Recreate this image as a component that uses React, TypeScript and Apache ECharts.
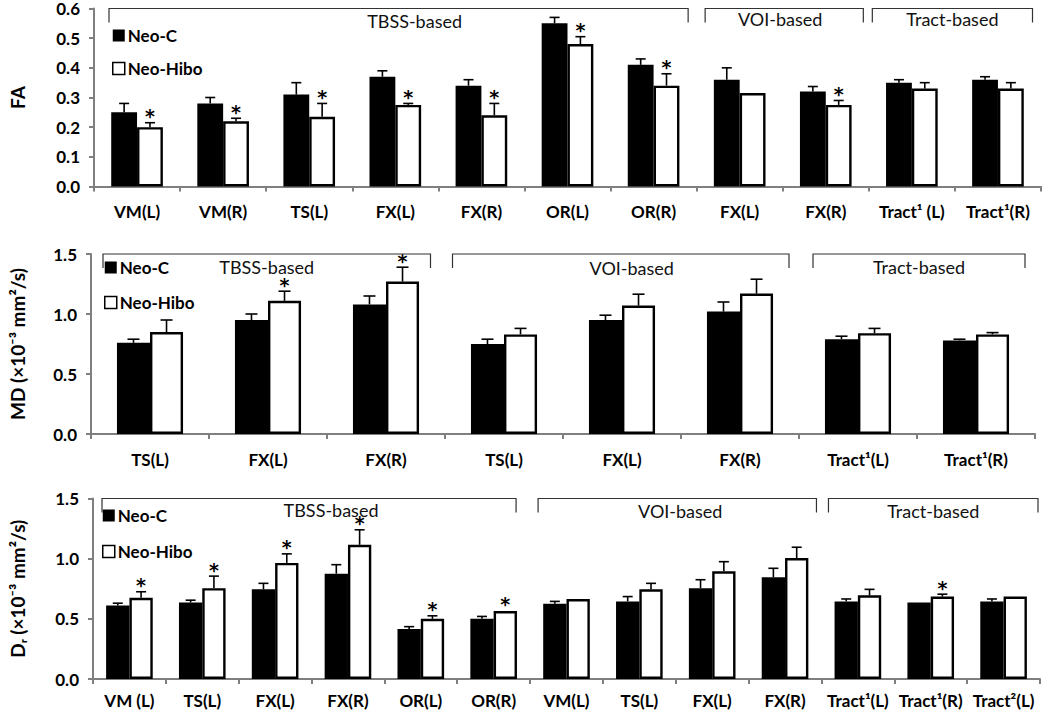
import React, { useEffect, useRef } from "react";
import * as echarts from "echarts";

// ---------- DATA ----------
const faCategories = ["VM(L)", "VM(R)", "TS(L)", "FX(L)", "FX(R)", "OR(L)", "OR(R)", "FX(L)", "FX(R)", "Tract¹ (L)", "Tract¹(R)"];
const faNeoC = [0.25, 0.28, 0.31, 0.37, 0.34, 0.55, 0.41, 0.36, 0.32, 0.35, 0.36];
const faNeoCSd = [0.03, 0.02, 0.04, 0.02, 0.02, 0.02, 0.02, 0.04, 0.017, 0.01, 0.01];
const faNeoHibo = [0.2, 0.22, 0.235, 0.275, 0.24, 0.48, 0.34, 0.315, 0.275, 0.33, 0.33];
const faNeoHiboSd = [0.015, 0.01, 0.045, 0.005, 0.04, 0.025, 0.04, 0.002, 0.015, 0.02, 0.02];
const faSig = [1, 1, 1, 1, 1, 1, 1, 0, 1, 0, 0];
const faTicks = [0, 0.6, 0.1];

const mdCategories = ["TS(L)", "FX(L)", "FX(R)", "TS(L)", "FX(L)", "FX(R)", "Tract¹(L)", "Tract¹(R)"];
const mdNeoC = [0.76, 0.95, 1.08, 0.75, 0.95, 1.02, 0.79, 0.78];
const mdNeoCSd = [0.03, 0.05, 0.07, 0.04, 0.04, 0.08, 0.025, 0.01];
const mdNeoHibo = [0.85, 1.11, 1.27, 0.83, 1.07, 1.17, 0.84, 0.83];
const mdNeoHiboSd = [0.1, 0.08, 0.12, 0.05, 0.095, 0.12, 0.04, 0.015];
const mdSig = [0, 1, 1, 0, 0, 0, 0, 0];
const mdTicks = [0, 1.5, 0.5];

const drCategories = ["VM (L)", "TS(L)", "FX(L)", "FX(R)", "OR(L)", "OR(R)", "VM(L)", "TS(L)", "FX(L)", "FX(R)", "Tract¹(L)", "Tract¹(R)", "Tract²(L)"];
const drNeoC = [0.61, 0.635, 0.745, 0.875, 0.415, 0.5, 0.625, 0.645, 0.755, 0.845, 0.645, 0.635, 0.645];
const drNeoCSd = [0.02, 0.02, 0.05, 0.075, 0.02, 0.02, 0.02, 0.04, 0.07, 0.075, 0.02, 0.004, 0.02];
const drNeoHibo = [0.675, 0.755, 0.965, 1.115, 0.5, 0.565, 0.665, 0.745, 0.895, 1.005, 0.695, 0.685, 0.685];
const drNeoHiboSd = [0.05, 0.1, 0.075, 0.125, 0.025, 0.005, 0.003, 0.05, 0.08, 0.09, 0.05, 0.02, 0.003];
const drSig = [1, 1, 1, 1, 1, 1, 0, 0, 0, 0, 0, 1, 0];
const drTicks = [0, 1.5, 0.5];

// bracket groups: [first category index, last category index, label]
const faBrackets: [number, number, string][] = [[0, 6, "TBSS-based"], [7, 8, "VOI-based"], [9, 10, "Tract-based"]];
const mdBrackets: [number, number, string][] = [[0, 2, "TBSS-based"], [3, 5, "VOI-based"], [6, 7, "Tract-based"]];
const drBrackets: [number, number, string][] = [[0, 5, "TBSS-based"], [6, 9, "VOI-based"], [10, 12, "Tract-based"]];

const seriesNames = ["Neo-C", "Neo-Hibo"];
const yTitles = ["FA", "MD (×10⁻³ mm²/s)", "Dᵣ (×10⁻³ mm²/s)"];

// ---------- STYLE ----------
const FONT = "Lato, 'Open Sans', sans-serif";
const AXIS_GRAY = "#7f7f7f";

const panels = [
  {
    cats: faCategories, c: faNeoC, cSd: faNeoCSd, h: faNeoHibo, hSd: faNeoHiboSd, sig: faSig, ticks: faTicks,
    brackets: faBrackets,
    grid: { left: 89, top: 8.5, width: 952, height: 178 },
    barFrac: 0.3, cap: 5, labelMargin: 16, nameGap: 67,
    bracketStyle: [{ padL: 15, padR: 8.5, dx: 16, dy: 12 }, { padL: 8.5, padR: 5.5, dx: -4, dy: 10 }, { padL: 3.5, padR: 8.5, dx: 0, dy: 10 }],
    legend: { left: 112, top: 27, itemGap: 16 },
  },
  {
    cats: mdCategories, c: mdNeoC, cSd: mdNeoCSd, h: mdNeoHibo, hSd: mdNeoHiboSd, sig: mdSig, ticks: mdTicks,
    brackets: mdBrackets,
    grid: { left: 87, top: 254, width: 948, height: 180 },
    barFrac: 0.28, cap: 6, labelMargin: 17, nameGap: 64,
    bracketStyle: [{ padL: 12, padR: 14.5, dx: 0, dy: 13 }, { padL: 7.5, padR: 10, dx: 11, dy: 14 }, { padL: 14, padR: 10, dx: 0, dy: 13 }],
    legend: { left: 104, top: 259, itemGap: 18 },
  },
  {
    cats: drCategories, c: drNeoC, cSd: drNeoCSd, h: drNeoHibo, hSd: drNeoHiboSd, sig: drSig, ticks: drTicks,
    brackets: drBrackets,
    grid: { left: 88, top: 498.5, width: 952, height: 180.5 },
    barFrac: 0.32, cap: 5, labelMargin: 13, nameGap: 66,
    bracketStyle: [{ padL: 9, padR: 14, dx: 22, dy: 11 }, { padL: 8, padR: 5, dx: 3, dy: 12 }, { padL: 7, padR: 2, dx: 0, dy: 12 }],
    legend: { left: 102, top: 507, itemGap: 19 },
  },
];

function errorSeries(gi: number, vals: number[], sds: number[], sig: number[] | null, side: number, frac: number, capHalf: number) {
  return {
    type: "custom",
    xAxisIndex: gi,
    yAxisIndex: gi,
    silent: true,
    z: 5,
    encode: { x: 0, y: [1, 2] },
    data: vals.map((v, i) => [i, v, v + sds[i], sig ? sig[i] : 0]),
    renderItem: (params: any, api: any) => {
      const i = api.value(0);
      const v = api.value(1);
      const t = api.value(2);
      const s = api.value(3);
      const band = api.size([1, 0])[0];
      const bw = band * frac;
      const p0 = api.coord([i, v]);
      const p1 = api.coord([i, t]);
      const x = p0[0] + (side * bw) / 2;
      const children: any[] = [];
      if (p0[1] - p1[1] > 0.8) {
        children.push({ type: "line", shape: { x1: x, y1: p0[1], x2: x, y2: p1[1] }, style: { stroke: "#000", lineWidth: 1.6 } });
        children.push({ type: "line", shape: { x1: x - capHalf, y1: p1[1], x2: x + capHalf, y2: p1[1] }, style: { stroke: "#000", lineWidth: 1.6 } });
      }
      if (s) {
        children.push({
          type: "text",
          x: x,
          y: Math.min(p0[1], p1[1]) - 6.5,
          style: { text: "*", fill: "#000", fontSize: 19, lineHeight: 10, fontWeight: "bold", fontFamily: "'DejaVu Sans', sans-serif", align: "center", verticalAlign: "middle" },
        });
      }
      return { type: "group", children };
    },
  };
}

function bracketSeries(gi: number, brackets: [number, number, string][], style: any[], yMax: number) {
  return {
    type: "custom",
    xAxisIndex: gi,
    yAxisIndex: gi,
    silent: true,
    clip: false,
    z: 6,
    encode: { x: 0, y: 1 },
    data: brackets.map((b) => [b[0], yMax, b[1]]),
    renderItem: (params: any, api: any) => {
      const k = params.dataIndex;
      const st = style[k];
      const band = api.size([1, 0])[0];
      const a = api.coord([api.value(0), api.value(1)]);
      const b = api.coord([api.value(2), api.value(1)]);
      const x0 = a[0] - band / 2 + st.padL;
      const x1 = b[0] + band / 2 - st.padR;
      const y = a[1];
      return {
        type: "group",
        children: [
          {
            type: "polyline",
            shape: { points: [[x0, y + 14], [x0, y], [x1, y], [x1, y + 14]] },
            style: { stroke: "#333", lineWidth: 1.2, fill: "none" },
          },
          {
            type: "text",
            x: (x0 + x1) / 2 + st.dx,
            y: y + st.dy,
            style: { text: brackets[k][2], fill: "#111", fontSize: 18, lineHeight: 15, fontFamily: FONT, align: "center", verticalAlign: "middle" },
          },
        ],
      };
    },
  };
}

function buildOption() {
  const grid: any[] = [];
  const xAxis: any[] = [];
  const yAxis: any[] = [];
  const series: any[] = [];
  const legend: any[] = [];

  panels.forEach((p, gi) => {
    grid.push({ ...p.grid, containLabel: false });
    xAxis.push({
      type: "category",
      gridIndex: gi,
      data: p.cats,
      boundaryGap: true,
      axisLine: { lineStyle: { color: AXIS_GRAY, width: 2 } },
      axisTick: { show: true, length: 5, lineStyle: { color: AXIS_GRAY, width: 2 } },
      axisLabel: { interval: 0, margin: p.labelMargin, color: "#000", fontSize: 17, fontWeight: "bold", fontFamily: FONT },
      splitLine: { show: false },
    });
    yAxis.push({
      type: "value",
      gridIndex: gi,
      min: p.ticks[0],
      max: p.ticks[1],
      interval: p.ticks[2],
      name: yTitles[gi],
      nameLocation: "middle",
      nameRotate: 90,
      nameGap: p.nameGap,
      nameTextStyle: { color: "#000", fontSize: 19, fontWeight: "bold", fontFamily: FONT },
      axisLine: { show: true, lineStyle: { color: AXIS_GRAY, width: 2 } },
      axisTick: { show: true, length: 5, lineStyle: { color: AXIS_GRAY, width: 2 } },
      axisLabel: { margin: 14, color: "#000", fontSize: 17, lineHeight: 12, fontWeight: "bold", fontFamily: FONT, formatter: (v: number) => v.toFixed(1) },
      splitLine: { show: false },
    });
    const bw = `${p.barFrac * 100}%`;
    series.push({
      name: seriesNames[0],
      type: "bar",
      xAxisIndex: gi,
      yAxisIndex: gi,
      data: p.c,
      barWidth: bw,
      barGap: "0%",
      itemStyle: { color: "#000" },
      z: 2,
    });
    series.push({
      name: seriesNames[1],
      type: "bar",
      xAxisIndex: gi,
      yAxisIndex: gi,
      data: p.h,
      barWidth: bw,
      barGap: "0%",
      itemStyle: { color: "#fff", borderColor: "#000", borderWidth: 2.4 },
      z: 3,
    });
    series.push(errorSeries(gi, p.c, p.cSd, null, -1, p.barFrac, p.cap));
    series.push(errorSeries(gi, p.h, p.hSd, p.sig, 1, p.barFrac, p.cap));
    series.push(bracketSeries(gi, p.brackets, p.bracketStyle, p.ticks[1]));
    legend.push({
      left: p.legend.left,
      top: p.legend.top,
      padding: 0,
      orient: "vertical",
      itemGap: p.legend.itemGap,
      itemWidth: 12,
      itemHeight: 12,
      selectedMode: false,
      textStyle: { color: "#000", fontSize: 17, fontWeight: "bold", fontFamily: FONT, lineHeight: 17, padding: [0, 0, 0, -2] },
      data: [
        { name: seriesNames[0], icon: "rect", itemStyle: { color: "#000", borderWidth: 0 } },
        { name: seriesNames[1], icon: "rect", itemStyle: { color: "#fff", borderColor: "#000", borderWidth: 1.5 } },
      ],
    });
  });

  return {
    animation: false,
    backgroundColor: "#fff",
    textStyle: { fontFamily: FONT },
    grid,
    xAxis,
    yAxis,
    legend,
    series,
  };
}

export default function App() {
  const ref = useRef<HTMLDivElement>(null);
  useEffect(() => {
    document.body.style.margin = "0";
    if (!ref.current) return;
    const chart = echarts.init(ref.current, undefined, { renderer: "svg" });
    chart.setOption(buildOption() as any);
    return () => chart.dispose();
  }, []);
  return <div ref={ref} style={{ width: 1050, height: 713 }} />;
}
